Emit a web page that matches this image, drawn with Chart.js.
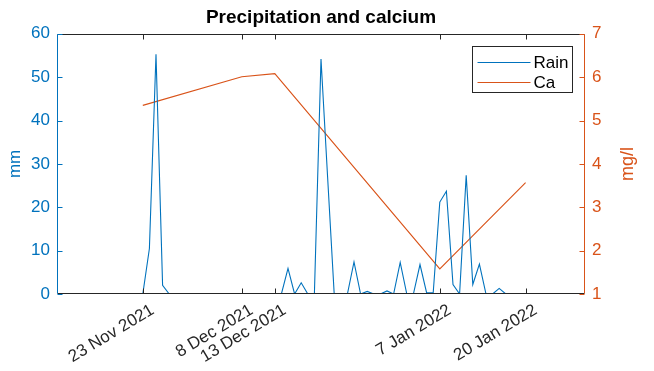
<!DOCTYPE html>
<html>
<head>
<meta charset="utf-8">
<script src="https://cdn.jsdelivr.net/npm/chart.js@4.4.1/dist/chart.umd.min.js"></script>
<style>
  body { margin: 0; background: #fff; }
  #wrap { width: 654px; height: 371px; }
</style>
</head>
<body>
<div id="wrap"><canvas id="rainCaChart"></canvas></div>
<script>
    // daily rain (mm), starting 23 Nov 2021
    const rainStart = '2021-11-23';
    const rainValues = [
        0, 10.5, 55.3, 2.0, 0,
        0, 0, 0, 0, 0, 0, 0, 0, 0, 0, 0, 0, 0, 0, 0,   // 28 Nov - 12 Dec
        0, 0, 5.9, 0, 2.6, 0, 0, 54.2, 27, 0,          // 13 - 22 Dec
        0, 0, 7.4, 0, 0.6, 0, 0, 0.7, 0, 7.3,          // 23 Dec - 1 Jan
        0, 0, 6.8, 0.3, 0.3, 21.2, 23.7, 2.2, 0, 27.4, // 2 - 11 Jan
        2.2, 6.9, 0, 0, 1.3, 0                         // 12 - 17 Jan
    ];

    // calcium samples (mg/l)
    const caDates = ['2021-11-23', '2021-12-08', '2021-12-13', '2022-01-07', '2022-01-20'];
    const caValues = [5.35, 6.01, 6.08, 1.58, 3.57];

    // x ticks sit on the sampling dates
    const tickDates = ['2021-11-23', '2021-12-08', '2021-12-13', '2022-01-07', '2022-01-20'];
    const tickLabels = ['23 Nov 2021', '8 Dec 2021', '13 Dec 2021', '7 Jan 2022', '20 Jan 2022'];
    const xRange = ['2021-11-10', '2022-01-29'];

    const DAY = 86400000;
    const toDay = s => Date.parse(s + 'T00:00:00Z') / DAY;

    const blue = '#0072BD';
    const orange = '#D95319';
    const dark = '#262626';
    const fontFamily = '"Liberation Sans", Arial, Helvetica, sans-serif';

    const rainPoints = rainValues.map((v, i) => ({ x: toDay(rainStart) + i, y: v }));
    const caPoints = caValues.map((v, i) => ({ x: toDay(caDates[i]), y: v }));

    // box, inward ticks, right label and legend drawn over the lines (matlab look)
    const axesBox = {
        id: 'axesBox',
        afterDatasetsDraw(chart) {
            const { ctx, chartArea: a, scales } = chart;
            const L = Math.round(a.left) + 0.5, R = Math.round(a.right) - 0.5;
            const T = Math.round(a.top) + 0.5, B = Math.round(a.bottom) - 0.5;
            const tl = 5;
            ctx.save();
            ctx.lineWidth = 1;

            ctx.strokeStyle = dark;
            ctx.beginPath();
            ctx.moveTo(L, B); ctx.lineTo(R, B);
            ctx.moveTo(L, T); ctx.lineTo(R, T);
            scales.x.ticks.forEach(t => {
                const px = Math.round(scales.x.getPixelForValue(t.value)) + 0.5;
                ctx.moveTo(px, B); ctx.lineTo(px, B - tl);
                ctx.moveTo(px, T); ctx.lineTo(px, T + tl);
            });
            ctx.stroke();

            ctx.strokeStyle = blue;
            ctx.beginPath();
            ctx.moveTo(L, T); ctx.lineTo(L, B);
            scales.y.ticks.forEach(t => {
                const py = Math.round(scales.y.getPixelForValue(t.value)) + 0.5;
                ctx.moveTo(L, py); ctx.lineTo(L + tl, py);
            });
            ctx.stroke();

            ctx.strokeStyle = orange;
            ctx.beginPath();
            ctx.moveTo(R, T); ctx.lineTo(R, B);
            scales.y1.ticks.forEach(t => {
                const py = Math.round(scales.y1.getPixelForValue(t.value)) + 0.5;
                ctx.moveTo(R, py); ctx.lineTo(R - tl, py);
            });
            ctx.stroke();

            // right axis title, reading bottom to top
            ctx.fillStyle = orange;
            ctx.font = '18px ' + fontFamily;
            ctx.textAlign = 'center';
            ctx.textBaseline = 'middle';
            ctx.translate(a.right + 43, (a.top + a.bottom) / 2);
            ctx.rotate(-Math.PI / 2);
            ctx.fillText('mg/l', 0, 0);
            ctx.setTransform(1, 0, 0, 1, 0, 0);

            // legend
            const bw = 100, bh = 46;
            const bx = Math.round(a.right - 13 - bw) + 0.5, by = Math.round(a.top + 12) + 0.5;
            ctx.fillStyle = '#fff';
            ctx.fillRect(bx, by, bw, bh);
            ctx.strokeStyle = dark;
            ctx.strokeRect(bx, by, bw, bh);
            ctx.font = '17px ' + fontFamily;
            ctx.textAlign = 'left';
            chart.data.datasets.forEach((ds, i) => {
                const ly = Math.round(by + 15 + i * 20) + 0.5;
                ctx.strokeStyle = ds.borderColor;
                ctx.beginPath();
                ctx.moveTo(bx + 5, ly); ctx.lineTo(bx + 58, ly);
                ctx.stroke();
                ctx.fillStyle = '#000';
                ctx.fillText(ds.label, bx + 61, ly + 1);
            });
            ctx.restore();
        }
    };

    new Chart(document.getElementById('rainCaChart'), {
        type: 'line',
        data: {
            datasets: [{
                label: 'Rain',
                data: rainPoints,
                yAxisID: 'y',
                borderColor: blue,
                borderWidth: 1.1,
                pointRadius: 0,
                tension: 0
            }, {
                label: 'Ca',
                data: caPoints,
                yAxisID: 'y1',
                borderColor: orange,
                borderWidth: 1.1,
                pointRadius: 0,
                tension: 0
            }]
        },
        options: {
            responsive: true,
            maintainAspectRatio: false,
            animation: false,
            // right padding keeps the title centred over the plot box
            layout: { padding: { left: 0, top: 0, bottom: 0, right: 12 } },
            plugins: {
                legend: { display: false },
                tooltip: { enabled: false },
                title: {
                    display: true,
                    text: 'Precipitation and calcium',
                    color: '#000',
                    font: { family: fontFamily, size: 19, weight: 'bold' },
                    padding: { top: 6, bottom: 5 }
                }
            },
            scales: {
                x: {
                    type: 'linear',
                    min: toDay(xRange[0]),
                    max: toDay(xRange[1]),
                    afterBuildTicks: s => { s.ticks = tickDates.map(d => ({ value: toDay(d) })); },
                    afterFit: s => { s.height = 77; },
                    grid: { display: false, drawTicks: false },
                    border: { display: false },
                    ticks: {
                        autoSkip: false,
                        maxRotation: 31,
                        minRotation: 31,
                        padding: 6,
                        labelOffset: 10,
                        color: dark,
                        font: { family: fontFamily, size: 17 },
                        callback: (v, i) => tickLabels[i]
                    }
                },
                y: {
                    position: 'left',
                    min: 0,
                    max: 60,
                    afterFit: s => { s.width = 57; },
                    grid: { display: false, drawTicks: false },
                    border: { display: false },
                    ticks: { stepSize: 10, padding: 7, color: blue, font: { family: fontFamily, size: 17 } },
                    title: {
                        display: true,
                        text: 'mm',
                        color: blue,
                        font: { family: fontFamily, size: 17 },
                        padding: { top: 5 }
                    }
                },
                y1: {
                    position: 'right',
                    min: 1,
                    max: 7,
                    afterFit: s => { s.width = 57; },
                    grid: { display: false, drawTicks: false },
                    border: { display: false },
                    ticks: { stepSize: 1, padding: 7, color: orange, font: { family: fontFamily, size: 17 } }
                }
            }
        },
        plugins: [axesBox]
    });
</script>
</body>
</html>
